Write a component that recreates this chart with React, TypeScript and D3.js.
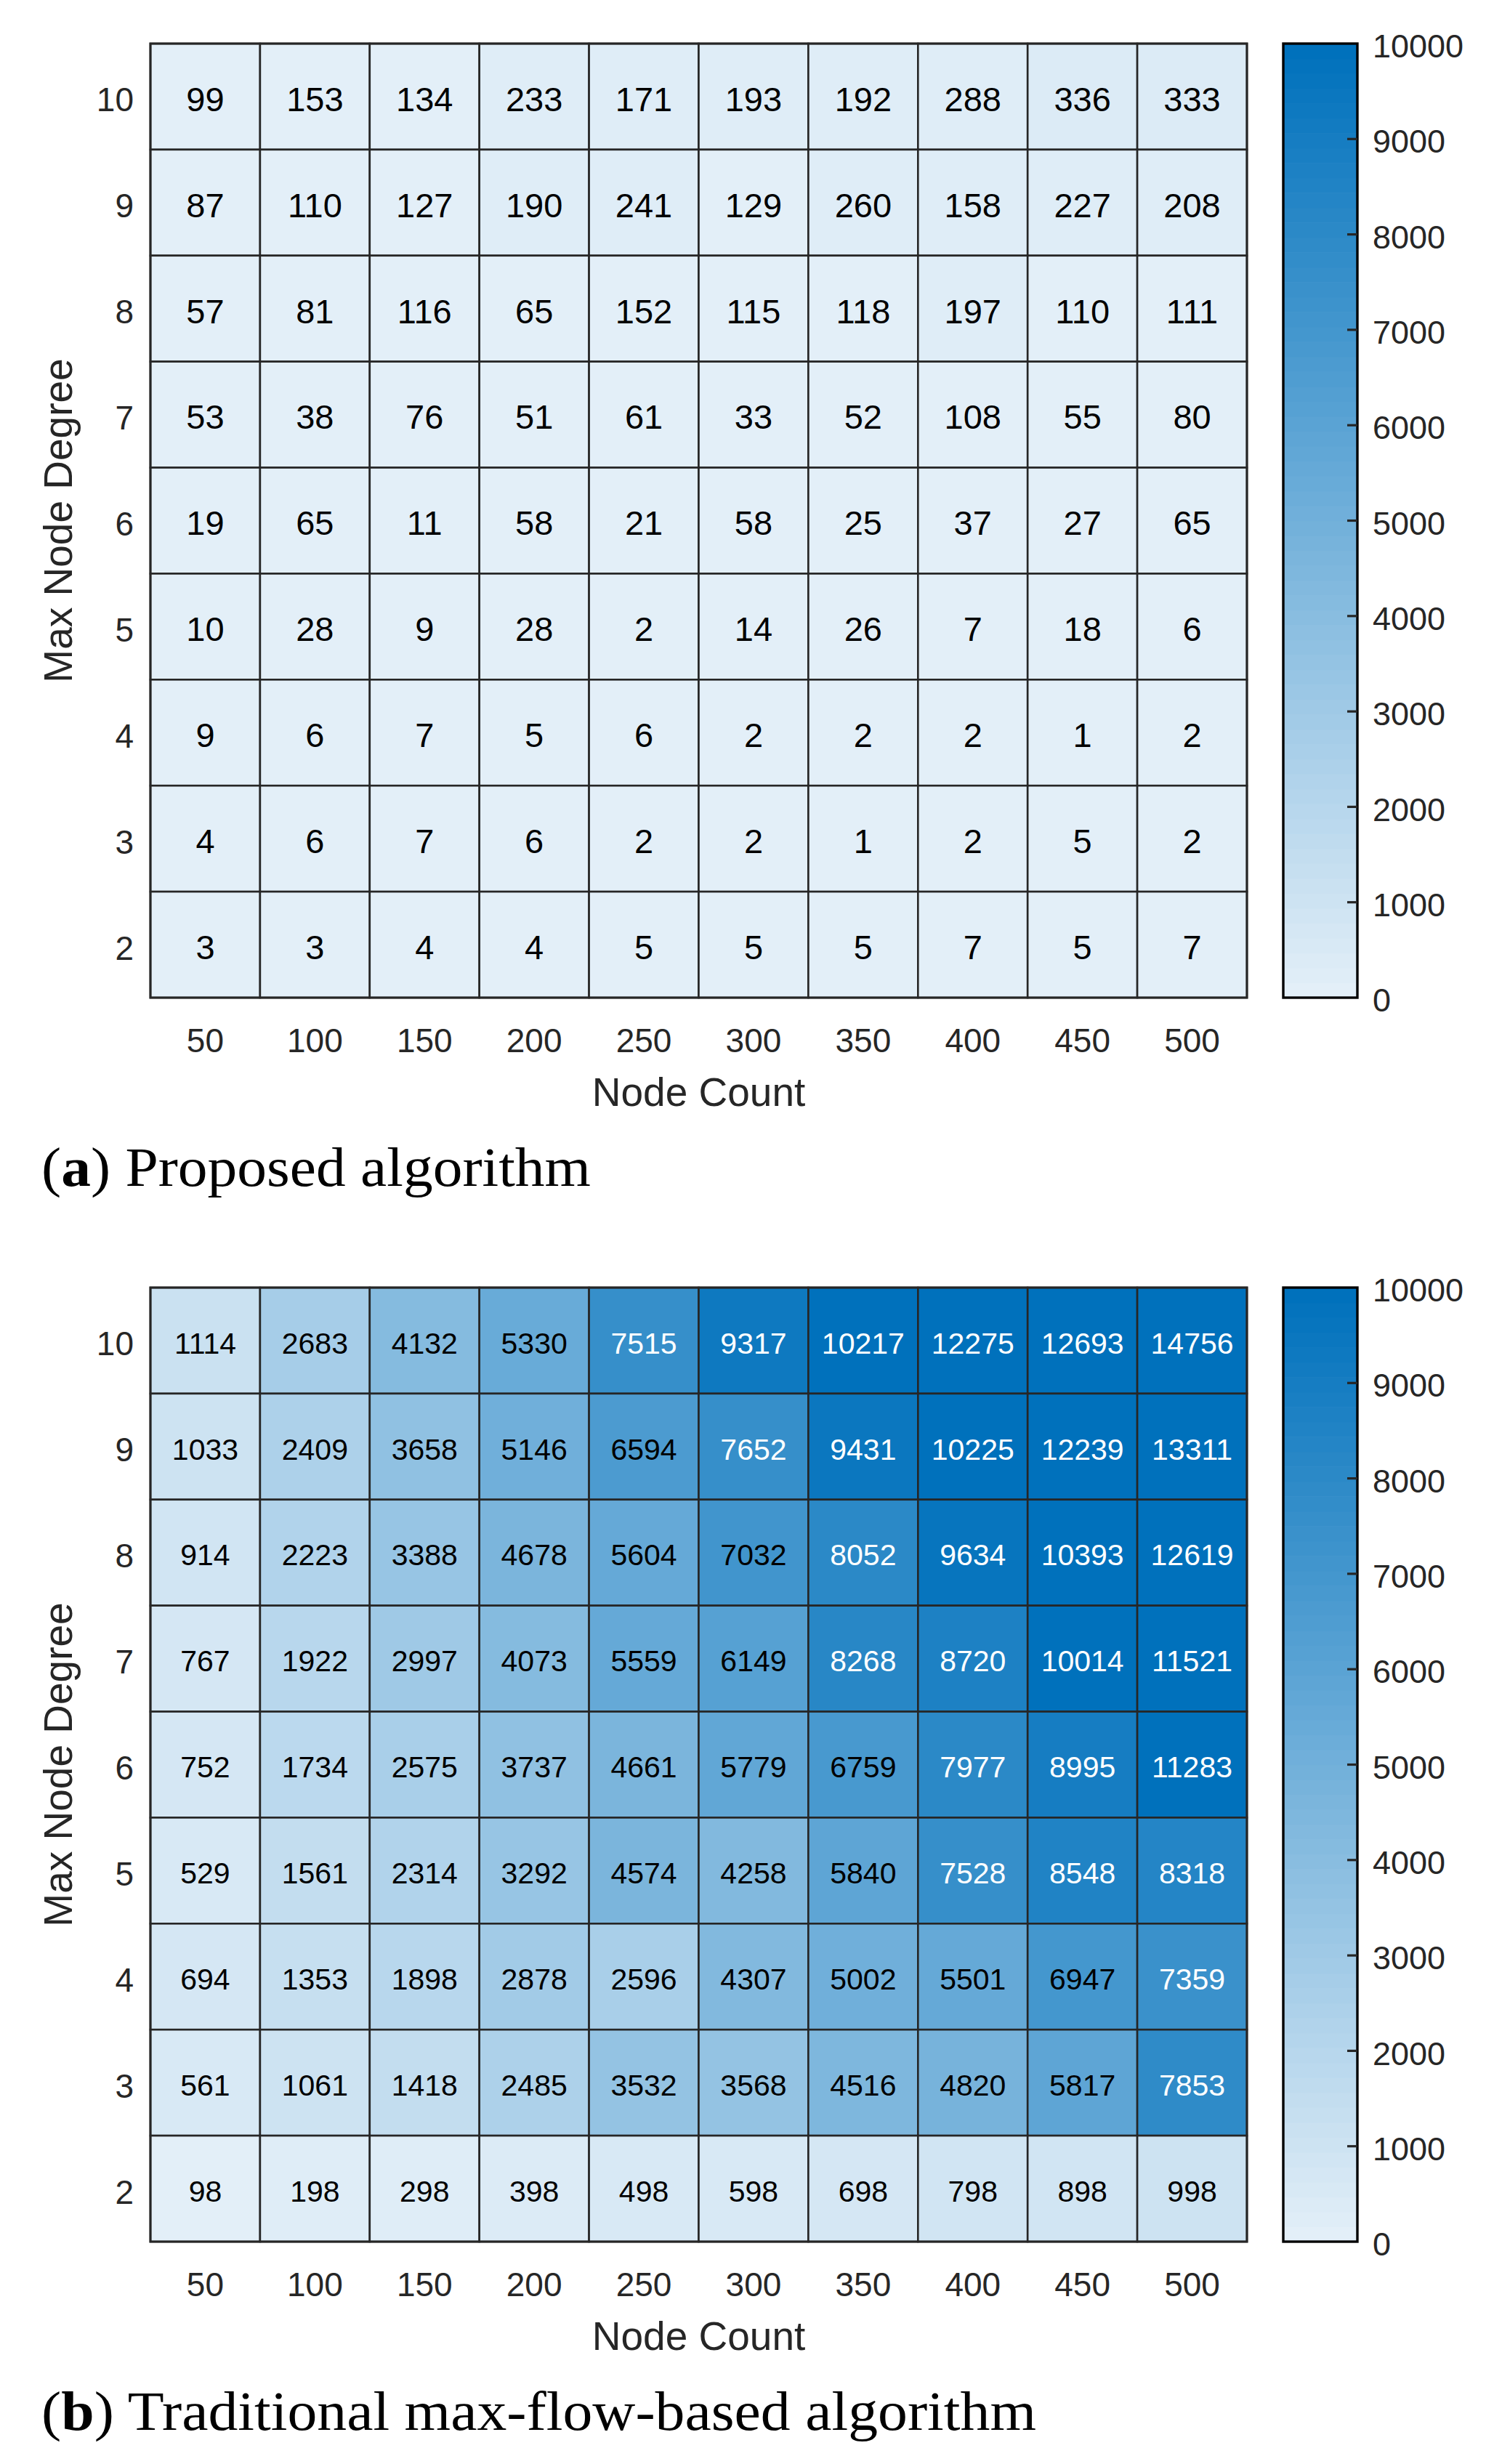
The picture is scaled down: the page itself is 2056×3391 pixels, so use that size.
import React from "react";
import * as d3 from "d3";

const nodeCounts = [50, 100, 150, 200, 250, 300, 350, 400, 450, 500];
const degrees = [10, 9, 8, 7, 6, 5, 4, 3, 2];

// rows from degree 10 (top) down to degree 2 (bottom)
const proposedValues = [
  [99, 153, 134, 233, 171, 193, 192, 288, 336, 333],
  [87, 110, 127, 190, 241, 129, 260, 158, 227, 208],
  [57, 81, 116, 65, 152, 115, 118, 197, 110, 111],
  [53, 38, 76, 51, 61, 33, 52, 108, 55, 80],
  [19, 65, 11, 58, 21, 58, 25, 37, 27, 65],
  [10, 28, 9, 28, 2, 14, 26, 7, 18, 6],
  [9, 6, 7, 5, 6, 2, 2, 2, 1, 2],
  [4, 6, 7, 6, 2, 2, 1, 2, 5, 2],
  [3, 3, 4, 4, 5, 5, 5, 7, 5, 7],
];

const traditionalValues = [
  [1114, 2683, 4132, 5330, 7515, 9317, 10217, 12275, 12693, 14756],
  [1033, 2409, 3658, 5146, 6594, 7652, 9431, 10225, 12239, 13311],
  [914, 2223, 3388, 4678, 5604, 7032, 8052, 9634, 10393, 12619],
  [767, 1922, 2997, 4073, 5559, 6149, 8268, 8720, 10014, 11521],
  [752, 1734, 2575, 3737, 4661, 5779, 6759, 7977, 8995, 11283],
  [529, 1561, 2314, 3292, 4574, 4258, 5840, 7528, 8548, 8318],
  [694, 1353, 1898, 2878, 2596, 4307, 5002, 5501, 6947, 7359],
  [561, 1061, 1418, 2485, 3532, 3568, 4516, 4820, 5817, 7853],
  [98, 198, 298, 398, 498, 598, 698, 798, 898, 998],
];

const colorTicks = [0, 1000, 2000, 3000, 4000, 5000, 6000, 7000, 8000, 9000, 10000];
const colorDomain = [0, 10000];

const xLabel = "Node Count";
const yLabel = "Max Node Degree";

const W = 2056;
const H = 3391;
const LEVELS = 64;
const interp = d3.interpolateRgb("#E3EFF8", "#0071BC");

function levelOf(v: number) {
  const t = (Math.min(Math.max(v, colorDomain[0]), colorDomain[1] - 1e-6) - colorDomain[0]) / (colorDomain[1] - colorDomain[0]);
  return Math.floor(t * LEVELS);
}
function cellColor(v: number) {
  return interp(levelOf(v) / (LEVELS - 1));
}
function textColor(fill: string) {
  const c = d3.rgb(fill);
  const L = (0.2126 * c.r + 0.7152 * c.g + 0.0722 * c.b) / 255;
  return L < 0.53 ? "#ffffff" : "#000000";
}

const SANS = "'Liberation Sans', Arial, Helvetica, sans-serif";
const SERIF = "'Liberation Serif', 'Times New Roman', serif";
const AX = "#262626";

function Panel({ top, values, cellFont, letter, caption, captionWidth }: any) {
  const left = 207;
  const right = 1716;
  const height = 1313;
  const x = d3.scaleBand<number>().domain(nodeCounts).range([left, right]);
  const y = d3.scaleBand<number>().domain(degrees).range([top, top + height]);
  const cbLeft = 1766;
  const cbRight = 1868;
  const cy = d3.scaleLinear().domain(colorDomain).range([top + height, top]);
  const bands = d3.range(LEVELS);
  const bandH = height / LEVELS;

  return (
    <g>
      {degrees.map((d, ri) =>
        nodeCounts.map((n, ci) => {
          const v = values[ri][ci];
          const fill = cellColor(v);
          return (
            <g key={`${d}-${n}`}>
              <rect x={x(n)} y={y(d)} width={x.bandwidth()} height={y.bandwidth()} fill={fill} stroke={AX} strokeWidth={2.6} />
              <text
                x={(x(n) as number) + x.bandwidth() / 2}
                y={(y(d) as number) + y.bandwidth() / 2 + 0.358 * cellFont + 3}
                textAnchor="middle"
                fontFamily={SANS}
                fontSize={cellFont}
                fill={textColor(fill)}
              >
                {v}
              </text>
            </g>
          );
        })
      )}
      <rect x={left} y={top} width={right - left} height={height} fill="none" stroke={AX} strokeWidth={3} />
      {degrees.map((d) => (
        <text key={`yt${d}`} x={184} y={(y(d) as number) + y.bandwidth() / 2 + 0.358 * 46 + 4} textAnchor="end" fontFamily={SANS} fontSize={46} fill={AX}>
          {d}
        </text>
      ))}
      {nodeCounts.map((n) => (
        <text key={`xt${n}`} x={(x(n) as number) + x.bandwidth() / 2} y={top + height + 75} textAnchor="middle" fontFamily={SANS} fontSize={46} fill={AX}>
          {n}
        </text>
      ))}
      <text x={(left + right) / 2} y={top + height + 149} textAnchor="middle" fontFamily={SANS} fontSize={55} fill={AX}>
        {xLabel}
      </text>
      <text transform={`translate(99,${top + height / 2}) rotate(-90)`} textAnchor="middle" fontFamily={SANS} fontSize={55} fill={AX}>
        {yLabel}
      </text>
      {/* colorbar */}
      {bands.map((b) => (
        <rect key={`cb${b}`} x={cbLeft} y={top + height - (b + 1) * bandH} width={cbRight - cbLeft} height={bandH + 0.6} fill={interp(b / (LEVELS - 1))} />
      ))}
      <rect x={cbLeft} y={top} width={cbRight - cbLeft} height={height} fill="none" stroke="#000" strokeWidth={3.4} />
      {colorTicks.map((t) => (
        <g key={`ct${t}`}>
          {t > colorDomain[0] && t < colorDomain[1] && (
            <line x1={cbRight - 14} x2={cbRight} y1={cy(t)} y2={cy(t)} stroke={AX} strokeWidth={3.2} />
          )}
          <text x={1889} y={cy(t) + 0.358 * 45 + 3} fontFamily={SANS} fontSize={45} fill={AX}>
            {t}
          </text>
        </g>
      ))}
      <text x={57} y={top + height + 259} fontFamily={SERIF} fontSize={76} fill="#000" textLength={captionWidth} lengthAdjust="spacingAndGlyphs">
        (<tspan fontWeight="bold">{letter}</tspan>) {caption}
      </text>
    </g>
  );
}

export default function App() {
  return (
    <svg width={W} height={H} viewBox={`0 0 ${W} ${H}`} style={{ position: "absolute", left: 0, top: 0, display: "block", background: "#fff" }}>
      <rect x={0} y={0} width={W} height={H} fill="#fff" />
      <Panel top={60} values={proposedValues} cellFont={47} letter="a" caption="Proposed algorithm" captionWidth={756} />
      <Panel top={1772} values={traditionalValues} cellFont={41} letter="b" caption="Traditional max-flow-based algorithm" captionWidth={1369} />
    </svg>
  );
}
